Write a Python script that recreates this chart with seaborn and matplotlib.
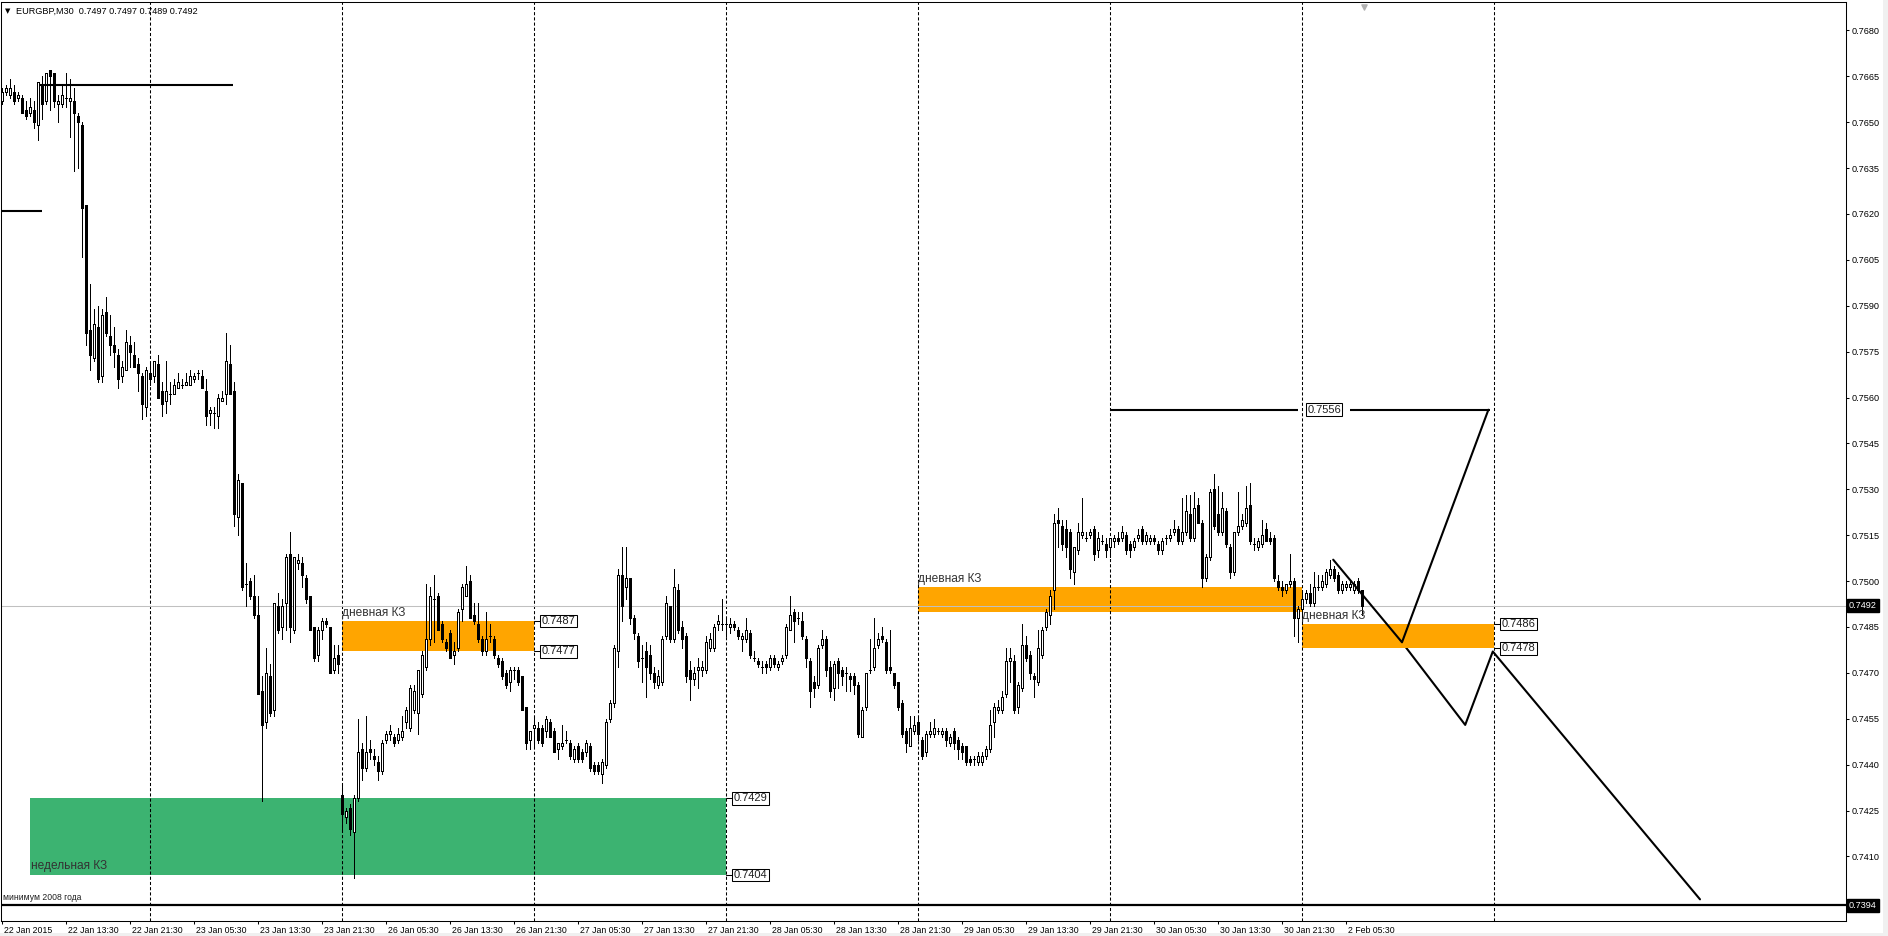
import numpy as np
import matplotlib
matplotlib.use("Agg")
import matplotlib.pyplot as plt
import matplotlib.transforms as mtransforms
from matplotlib.patches import Rectangle
import seaborn as sns

# ---------------- data (prices in 1/10000 units) ----------------
title_text = "EURGBP,M30  0.7497 0.7497 0.7489 0.7492"

bar_open = [
    7657,7660,7659,7660,7658,7658,7654,7653,7654,7649, 7662,7657,7667,7666,7656,7656,7658,7657,7657,7652,
    7649,7623,7582,7573,7583,7567,7588,7580,7577,7574, 7567,7569,7577,7574,7571,7567,7557,7568,7567,7571,
    7562,7559,7561,7561,7563,7564,7564,7564,7566,7568, 7567,7562,7555,7555,7554,7559,7561,7571,7562,7521,
    7532,7499,7500,7495,7489,7464,7454,7469,7458,7492, 7485,7493,7509,7484,7506,7506,7501,7495,7485,7476,
    7484,7487,7485,7471,7476,7430,7423,7426,7418,7429, 7445,7439,7445,7443,7441,7438,7448,7450,7449,7448,
    7449,7454,7452,7458,7457,7463,7472,7481,7494,7495, 7486,7480,7483,7476,7478,7491,7495,7500,7489,7486,
    7481,7477,7482,7481,7475,7474,7470,7467,7471,7471, 7469,7459,7448,7452,7452,7452,7451,7454,7451,7445,
    7446,7448,7447,7442,7446,7444,7444,7446,7440,7440, 7437,7440,7455,7460,7477,7502,7498,7501,7488,7482,
    7475,7477,7476,7470,7466,7467,7482,7492,7481,7497, 7485,7482,7471,7468,7471,7471,7471,7478,7478,7486,
    7486,7486,7485,7486,7484,7481,7481,7483,7475,7474, 7472,7473,7472,7475,7472,7474,7476,7484,7490,7488,
    7487,7481,7474,7467,7466,7479,7481,7472,7465,7474, 7471,7470,7469,7469,7466,7449,7459,7471,7472,7479,
    7482,7480,7472,7470,7467,7460,7451,7446,7451,7454, 7448,7444,7450,7450,7451,7450,7451,7447,7451,7448,
    7446,7446,7442,7442,7441,7441,7443,7445,7454,7458, 7458,7463,7474,7474,7459,7465,7479,7476,7469,7467,
    7476,7485,7489,7497,7520,7518,7517,7516,7503,7510, 7515,7514,7515,7517,7510,7513,7512,7511,7513,7514,
    7514,7515,7512,7511,7514,7517,7513,7513,7514,7512, 7510,7514,7514,7516,7517,7513,7516,7522,7514,7525,
    7519,7501,7508,7530,7522,7516,7523,7511,7503,7516, 7518,7519,7525,7512,7511,7512,7517,7514,7514,7500,
    7498,7497,7499,7500,7488,7491,7494,7496,7493,7498, 7498,7499,7502,7504,7502,7497,7498,7498,7497,7500,
    7497]
bar_high = [
    7661,7662,7664,7662,7660,7659,7657,7658,7657,7663, 7665,7666,7667,7666,7659,7662,7666,7664,7661,7653,
    7650,7623,7597,7589,7590,7589,7593,7587,7583,7576, 7572,7582,7580,7578,7573,7568,7570,7571,7572,7574,
    7565,7572,7565,7566,7568,7566,7568,7569,7568,7569, 7569,7566,7557,7557,7561,7562,7581,7577,7565,7535,
    7532,7506,7501,7502,7495,7469,7478,7473,7493,7496, 7494,7509,7516,7508,7509,7508,7502,7495,7485,7485,
    7488,7488,7485,7479,7479,7434,7426,7427,7430,7455, 7447,7456,7448,7445,7443,7448,7451,7453,7450,7452,
    7456,7459,7466,7466,7471,7477,7499,7498,7502,7496, 7487,7481,7484,7480,7491,7499,7505,7502,7493,7493,
    7482,7490,7486,7482,7476,7475,7471,7472,7472,7472, 7469,7459,7451,7456,7454,7453,7456,7455,7452,7447,
    7453,7451,7448,7446,7447,7445,7448,7447,7441,7441, 7442,7455,7461,7479,7504,7511,7511,7501,7489,7483,
    7479,7480,7479,7472,7471,7482,7495,7492,7504,7499, 7487,7483,7474,7472,7475,7474,7482,7483,7486,7489,
    7494,7488,7488,7487,7485,7483,7488,7484,7477,7475, 7474,7474,7476,7476,7474,7476,7486,7495,7491,7490,
    7490,7482,7475,7469,7479,7484,7482,7474,7474,7475, 7472,7472,7470,7470,7467,7459,7470,7481,7488,7483,
    7485,7481,7484,7470,7467,7461,7452,7456,7456,7456, 7449,7451,7454,7455,7452,7452,7452,7450,7452,7449,
    7447,7446,7443,7443,7444,7444,7446,7458,7460,7461, 7464,7478,7478,7476,7467,7486,7482,7477,7470,7484,
    7485,7491,7497,7522,7524,7520,7520,7517,7511,7519, 7527,7516,7517,7518,7516,7515,7514,7514,7515,7516,
    7518,7516,7513,7514,7517,7518,7516,7515,7515,7513, 7514,7515,7517,7520,7518,7527,7528,7528,7529,7527,
    7520,7509,7530,7535,7531,7529,7524,7512,7516,7529, 7522,7531,7532,7514,7514,7520,7519,7516,7515,7502,
    7500,7499,7509,7501,7492,7497,7497,7499,7503,7502, 7502,7504,7507,7505,7503,7500,7500,7500,7500,7501,
    7497]
bar_low = [
    7656,7659,7658,7656,7657,7653,7651,7652,7648,7644, 7651,7656,7654,7655,7650,7655,7655,7645,7634,7635,
    7606,7577,7569,7572,7565,7565,7580,7574,7570,7563, 7565,7569,7570,7570,7562,7553,7554,7564,7565,7560,
    7554,7555,7558,7561,7563,7563,7564,7564,7565,7566, 7563,7551,7551,7550,7550,7559,7558,7561,7518,7515,
    7497,7492,7494,7488,7463,7428,7452,7456,7456,7483, 7481,7484,7480,7483,7504,7498,7493,7484,7474,7474,
    7481,7485,7470,7470,7470,7418,7421,7417,7403,7428, 7435,7438,7442,7440,7435,7437,7447,7448,7446,7447,
    7448,7452,7451,7457,7450,7462,7471,7479,7480,7484, 7480,7477,7475,7473,7477,7487,7495,7488,7486,7480,
    7476,7476,7480,7475,7472,7468,7465,7464,7468,7466, 7458,7445,7445,7446,7447,7446,7449,7449,7444,7442,
    7445,7447,7442,7441,7441,7441,7443,7438,7437,7437, 7434,7439,7454,7459,7472,7487,7494,7486,7481,7472,
    7467,7462,7468,7465,7465,7466,7481,7480,7480,7483, 7478,7467,7461,7466,7465,7469,7470,7477,7477,7484,
    7484,7482,7483,7484,7481,7477,7480,7475,7474,7472, 7470,7470,7471,7472,7471,7473,7475,7484,7480,7486,
    7481,7472,7459,7462,7465,7478,7469,7462,7461,7465, 7466,7464,7464,7463,7449,7449,7458,7470,7471,7478,
    7480,7470,7470,7465,7458,7449,7444,7446,7450,7448, 7442,7443,7449,7449,7450,7449,7446,7446,7445,7442,
    7442,7440,7440,7440,7440,7440,7442,7444,7449,7457, 7457,7462,7467,7457,7457,7464,7474,7468,7462,7466,
    7475,7484,7486,7491,7511,7510,7508,7501,7499,7509, 7514,7513,7514,7507,7508,7512,7508,7508,7511,7512,
    7513,7509,7508,7510,7513,7512,7512,7512,7512,7509, 7509,7512,7513,7515,7512,7512,7515,7513,7513,7519,
    7498,7500,7507,7517,7515,7515,7511,7501,7502,7515, 7517,7518,7512,7510,7510,7511,7513,7512,7500,7497,
    7495,7496,7498,7482,7480,7486,7493,7492,7492,7497, 7497,7498,7501,7500,7496,7496,7497,7497,7496,7496,
    7489]
bar_close = [
    7660,7661,7661,7657,7659,7653,7652,7655,7650,7663, 7656,7666,7665,7657,7657,7659,7658,7658,7653,7650,
    7622,7581,7574,7584,7566,7587,7581,7577,7575,7566, 7570,7578,7575,7570,7568,7558,7569,7566,7572,7560,
    7558,7562,7561,7564,7565,7564,7565,7567,7567,7568, 7563,7554,7556,7555,7560,7560,7572,7561,7522,7533,
    7498,7499,7495,7489,7463,7453,7470,7457,7493,7484, 7492,7508,7485,7508,7507,7502,7494,7484,7475,7484,
    7487,7486,7470,7475,7473,7424,7425,7419,7429,7444, 7439,7444,7444,7442,7438,7447,7450,7451,7447,7450,
    7451,7458,7465,7464,7471,7476,7481,7495,7494,7484, 7481,7478,7475,7477,7490,7498,7499,7488,7487,7481,
    7477,7481,7482,7476,7473,7469,7466,7471,7471,7467, 7458,7447,7451,7453,7448,7447,7455,7449,7444,7447,
    7447,7448,7443,7445,7442,7442,7447,7439,7438,7438, 7441,7454,7460,7478,7502,7492,7501,7488,7483,7474,
    7475,7472,7470,7467,7469,7481,7493,7481,7498,7484, 7481,7469,7468,7470,7472,7472,7480,7481,7485,7487,
    7486,7486,7486,7485,7482,7482,7484,7476,7475,7473, 7472,7472,7475,7473,7473,7475,7485,7489,7487,7488,
    7482,7475,7464,7465,7478,7481,7471,7464,7473,7470, 7469,7470,7468,7466,7450,7458,7470,7471,7478,7481,
    7481,7471,7471,7466,7459,7450,7447,7452,7453,7450, 7443,7450,7451,7452,7451,7451,7448,7449,7447,7445,
    7444,7441,7441,7442,7443,7443,7445,7453,7459,7459, 7462,7474,7475,7458,7466,7479,7475,7470,7468,7478,
    7484,7490,7495,7519,7519,7512,7511,7504,7511,7516, 7516,7514,7516,7509,7514,7513,7510,7514,7514,7513,
    7516,7510,7510,7513,7515,7513,7515,7514,7513,7510, 7513,7514,7515,7517,7513,7516,7523,7514,7524,7519,
    7501,7508,7529,7518,7516,7524,7512,7503,7516,7518, 7520,7524,7513,7512,7513,7515,7513,7513,7501,7498,
    7497,7499,7500,7488,7491,7494,7496,7493,7498,7498, 7500,7503,7504,7501,7497,7499,7499,7499,7499,7497,
    7492]

time_label_bars = [0, 16, 32, 48, 64, 80, 96, 112, 128, 144, 160, 176, 192, 208, 224, 240,
                   256, 272, 288, 304, 320, 336]
time_labels = ["22 Jan 2015", "22 Jan 13:30", "22 Jan 21:30", "23 Jan 05:30", "23 Jan 13:30",
               "23 Jan 21:30", "26 Jan 05:30", "26 Jan 13:30", "26 Jan 21:30", "27 Jan 05:30",
               "27 Jan 13:30", "27 Jan 21:30", "28 Jan 05:30", "28 Jan 13:30", "28 Jan 21:30",
               "29 Jan 05:30", "29 Jan 13:30", "29 Jan 21:30", "30 Jan 05:30", "30 Jan 13:30",
               "30 Jan 21:30", "2 Feb 05:30"]
separator_bars = [37, 85, 133, 181, 229, 277, 325, 373]
price_ticks = [0.7410, 0.7425, 0.7440, 0.7455, 0.7470, 0.7485, 0.7500, 0.7515, 0.7530,
               0.7545, 0.7560, 0.7575, 0.7590, 0.7605, 0.7620, 0.7635, 0.7650, 0.7665, 0.7680]

daily_zone_start = [85, 229, 325]
daily_zone_end = [133, 325, 373]
daily_zone_low = [0.7477, 0.7490, 0.7478]
daily_zone_high = [0.7487, 0.7498, 0.7486]
daily_zone_tagged = [True, False, True]
daily_zone_name = "дневная КЗ"

weekly_zone_start, weekly_zone_end = 7, 181
weekly_zone_low, weekly_zone_high = 0.7404, 0.7429
weekly_zone_name = "недельная КЗ"

level_2008 = 0.7394
level_2008_name = "минимум 2008 года"
bid_price = 0.7492
top_level = (9.5, 57.75, 0.7662)
side_level = (-0.25, 10.0, 0.7621)
target_level = (277, 372, 0.7556)

path_up_x = [332.8, 350.0, 371.6]
path_up_y = [0.7507, 0.7480, 0.7556]
path_down_x = [350.0, 365.8, 372.7, 424.5]
path_down_y = [0.7480, 0.7453, 0.7477, 0.7396]

# ---------------- style ----------------
sns.set_theme(style="white")
plt.rcParams["font.family"] = ["Liberation Sans", "DejaVu Sans"]

W, H = 1888, 936
fig = plt.figure(figsize=(W / 100, H / 100), dpi=100)
fig.patch.set_facecolor("white")
ax = fig.add_axes([1 / W, (H - 921) / H, (1846 - 1) / W, (921 - 2) / H])
ax.set_facecolor("white")

o = np.array(bar_open) / 10000.0
h = np.array(bar_high) / 10000.0
l = np.array(bar_low) / 10000.0
c = np.array(bar_close) / 10000.0
h = np.maximum(h, np.maximum(o, c))
l = np.minimum(l, np.minimum(o, c))
idx = np.arange(len(o))

XMIN, XMAX = -0.25, 461.0
YMIN, YMAX = 0.738892, 0.768925

# zones (background objects)
for s, e, lo, hi in zip(daily_zone_start, daily_zone_end, daily_zone_low, daily_zone_high):
    ax.add_patch(Rectangle((s, lo), e - s, hi - lo, facecolor="#FFA500", edgecolor="none", zorder=1))
ax.add_patch(Rectangle((weekly_zone_start, weekly_zone_low), weekly_zone_end - weekly_zone_start,
                       weekly_zone_high - weekly_zone_low, facecolor="#3CB371", edgecolor="none", zorder=1))

# projection path hidden behind zones
sns.lineplot(x=path_down_x, y=path_down_y, sort=False, estimator=None, color="black",
             linewidth=1.5, ax=ax, zorder=0.5, legend=False)

# period separators
for s in separator_bars:
    ax.axvline(s, color="black", lw=0.75, linestyle=(0, (3, 2)), zorder=1.5)

# bid line
ax.axhline(bid_price, color="#C0C0C0", lw=0.75, zorder=2)

# candles
ax.vlines(idx, l, h, colors="black", lw=0.72, antialiased=False, zorder=3)
bull = c >= o
bear = ~bull
ax.bar(idx[bull], (c - o)[bull], bottom=o[bull], width=0.62, color="white", edgecolor="black",
       linewidth=0.72, antialiased=False, zorder=4)
ax.bar(idx[bear], (c - o)[bear], bottom=o[bear], width=0.62, color="black", edgecolor="black",
       linewidth=0.72, antialiased=False, zorder=4)

# horizontal levels
ax.plot([top_level[0], top_level[1]], [top_level[2]] * 2, color="black", lw=1.5, zorder=5,
        solid_capstyle="butt")
ax.plot([side_level[0], side_level[1]], [side_level[2]] * 2, color="black", lw=1.5, zorder=5,
        solid_capstyle="butt")
ax.axhline(level_2008, color="black", lw=1.6, zorder=5)
ax.plot([target_level[0], 324.0], [target_level[2]] * 2, color="black", lw=1.5, zorder=5,
        solid_capstyle="butt")
ax.plot([337.0, target_level[1]], [target_level[2]] * 2, color="black", lw=1.5, zorder=5,
        solid_capstyle="butt")

sns.lineplot(x=path_up_x, y=path_up_y, sort=False, estimator=None, color="black",
             linewidth=1.5, ax=ax, zorder=6, legend=False)

# ---------------- texts ----------------
px = lambda dx, dy: mtransforms.offset_copy(ax.transData, fig=fig, x=dx, y=dy, units="dots")
box_style = dict(boxstyle="square,pad=0.12", facecolor="white", edgecolor="black", linewidth=0.75)

def price_tag(x_idx, price):
    ax.plot([x_idx, x_idx + 1.6], [price, price], color="black", lw=0.75, zorder=6)
    ax.text(x_idx + 1.9, price, f"{price:.4f}", ha="left", va="center", fontsize=8.0,
            color="#202020", bbox=box_style, zorder=7)

for s, e, lo, hi, tagged in zip(daily_zone_start, daily_zone_end, daily_zone_low,
                                daily_zone_high, daily_zone_tagged):
    ax.text(s, hi, daily_zone_name, transform=px(0, 2), ha="left", va="bottom",
            fontsize=8.6, color="#333333", zorder=7)
    if tagged:
        price_tag(e, hi)
        price_tag(e, lo)

ax.text(weekly_zone_start, weekly_zone_low, weekly_zone_name, transform=px(1, 3), ha="left",
        va="bottom", fontsize=8.6, color="#333333", zorder=7)
price_tag(weekly_zone_end, weekly_zone_high)
price_tag(weekly_zone_end, weekly_zone_low)

ax.text(330.5, target_level[2], f"{target_level[2]:.4f}", ha="center", va="center", fontsize=8.0,
        color="#202020", bbox=box_style, zorder=7)

ax.text(0.3, level_2008, level_2008_name, transform=px(0, 3), ha="left", va="bottom",
        fontsize=6.2, color="#202020", zorder=7)

# axes
ax.set_xlim(XMIN, XMAX)
ax.set_ylim(YMIN, YMAX)
ax.yaxis.tick_right()
ax.set_yticks(price_ticks)
ax.set_yticklabels([f"{p:.4f}" for p in price_ticks])
ax.tick_params(axis="y", direction="out", length=2.5, width=0.75, pad=1.5, labelsize=6.6,
               colors="black", right=True, left=False)
ax.set_xticks(time_label_bars)
ax.set_xticklabels(time_labels)
ax.tick_params(axis="x", direction="out", length=2.5, width=0.75, pad=0.8, labelsize=6.3,
               colors="black", bottom=True)
shift = mtransforms.ScaledTranslation(1.5 / 100, 0, fig.dpi_scale_trans)
for lab in ax.get_xticklabels():
    lab.set_horizontalalignment("left")
    lab.set_transform(lab.get_transform() + shift)
ax.grid(False)
for sp in ax.spines.values():
    sp.set_visible(True)
    sp.set_color("black")
    sp.set_linewidth(0.75)

ylab_tr = mtransforms.blended_transform_factory(ax.transAxes, ax.transData)
for val in [bid_price, level_2008]:
    ax.annotate(f"{val:.4f}", xy=(1.0, val), xycoords=ylab_tr, xytext=(3, 0),
                textcoords="offset pixels", ha="left", va="center", fontsize=6.6, color="white",
                bbox=dict(boxstyle="square,pad=0.2", facecolor="black", edgecolor="black"),
                annotation_clip=False, zorder=8)

# shift marker at top
top_tr = mtransforms.blended_transform_factory(ax.transData, ax.transAxes)
ax.scatter([340.5], [0.995], marker="v", s=14, color="#B0B0B0", transform=top_tr,
           clip_on=False, zorder=8)

# title
fig.text(5 / W, 1 - 11 / H, "▼", fontsize=5, family=["DejaVu Sans"], va="center", ha="left",
         color="black")
fig.text(16 / W, 1 - 11 / H, title_text, fontsize=6.6, va="center", ha="left", color="black")

# window border strips
fig.patches.append(Rectangle((1883 / W, 0), 5 / W, 1, transform=fig.transFigure,
                             facecolor="#F0F0F0", edgecolor="none", zorder=-1))
fig.patches.append(Rectangle((0, 0), 1, 3 / H, transform=fig.transFigure,
                             facecolor="#F0F0F0", edgecolor="none", zorder=-1))

fig.savefig("out.png", dpi=100)
